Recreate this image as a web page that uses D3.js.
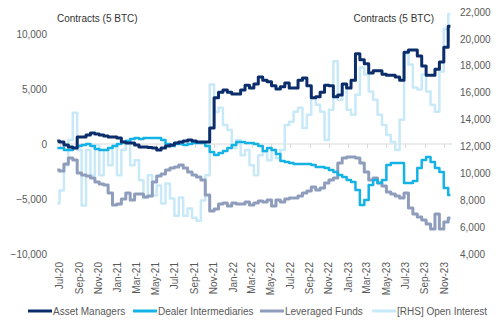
<!DOCTYPE html>
<meta charset="utf-8">
<body style="margin:0;background:#fff">
<style>
  text { font-family: "Liberation Sans", Arial, sans-serif; fill: #595959; }
  .unit { fill: #333; }
</style>
<svg width="499" height="329"></svg>
<script src="https://d3js.org/d3.v7.min.js"></script>
<script>

// CFTC positioning, sampled every two weeks
var start = new Date(2020, 5, 23);
var dates = d3.range(90).map(function(i){ return d3.timeDay.offset(start, 14 * i); });

var assetManagers = [270,180,-90,-270,-360,640,640,820,1000,900,820,730,640,640,550,180,90,90,-90,-270,
  -270,-320,-360,-550,-360,-180,-90,90,180,270,360,270,180,180,180,1450,4200,4700,4900,4700,
  4550,4550,4900,5350,5100,5450,6100,5800,5650,5300,5000,5200,5550,5100,5100,5800,6000,5300,4200,4300,
  4700,5350,5300,4300,4450,5450,5100,5800,8200,7650,7300,6450,6650,6650,6350,6250,6250,6100,5800,8350,
  8550,8550,8000,7100,6250,6250,6800,7450,8800,10700];

var dealers = [-360,-360,-550,-550,-360,-180,-90,0,-180,-450,-550,-550,-360,-180,0,180,270,450,550,450,
  550,550,550,550,360,0,-180,0,0,-90,0,90,90,90,-180,-730,-1000,-820,-640,-360,
  -90,180,180,90,90,0,-180,-640,-360,-550,-910,-1550,-1640,-1730,-1820,-1820,-1820,-1820,-1910,-2090,
  -2090,-2180,-2360,-2550,-2820,-3000,-3270,-3450,-4180,-5550,-5090,-3730,-3270,-3550,-3270,-1910,-1730,-1730,-1730,-3550,
  -3550,-3360,-2180,-1450,-1180,-1640,-2180,-2550,-4000,-4640];

var leveraged = [-2360,-2450,-1820,-1270,-1450,-2640,-2820,-2910,-3090,-3450,-3640,-3730,-4450,-5550,-5450,-5000,-4450,-5090,-4550,-4550,
  -4820,-4730,-3450,-2910,-2730,-2360,-2180,-2090,-1910,-2180,-2550,-2820,-3000,-3270,-4640,-6090,-5910,-5450,-5360,-5640,
  -5360,-5450,-5450,-5270,-5550,-5360,-5180,-5270,-5090,-5640,-5090,-5270,-5000,-4910,-4910,-4730,-4450,-4270,-3910,-4180,
  -4000,-3550,-3270,-3090,-1730,-1270,-1180,-1180,-1270,-1730,-2550,-3270,-3090,-3550,-3820,-4360,-4550,-4730,-4910,-4450,
  -5820,-6360,-6640,-6910,-7270,-7730,-6360,-7730,-7090,-6730];

var openInterest = [7750,8730,10600,12480,14500,11730,7600,11730,9850,12100,9850,11730,10600,12100,9850,11730,12480,10600,10980,9480,
  8200,9850,8350,9100,7750,9250,8130,6850,8200,6850,7380,6700,6480,7980,9850,16600,14580,14880,13600,13230,
  11880,12480,11350,11730,10600,9850,11350,11580,10980,11730,11130,11730,13600,13830,14580,14880,13380,14350,15630,15100,
  14580,12480,14730,18330,15480,16600,14730,14350,15850,17880,17350,16080,15480,14350,13600,12850,12330,11730,13980,18850,
  18100,16380,16230,17350,16080,15100,14580,17580,20730,21850];

var leftTicks = [-10000, -5000, 0, 5000, 10000];
var rightTicks = [4000, 6000, 8000, 10000, 12000, 14000, 16000, 18000, 20000, 22000];

var svg = d3.select("svg");

var x = d3.scaleTime()
    .domain([new Date(2020, 5, 22), new Date(2023, 10, 26)])
    .range([57, 452]);
var yL = d3.scaleLinear().domain([-10000, 12000]).range([254, 12]);
var yR = d3.scaleLinear().domain([4000, 22000]).range([254, 12]);

var fmt = d3.format(",");

// left axis labels
var gl = svg.append("g")
    .attr("transform", "translate(50,0)")
    .call(d3.axisLeft(yL).tickValues(leftTicks).tickSize(0).tickFormat(fmt));
gl.select(".domain").remove();
gl.selectAll("text").attr("font-size", 10).attr("fill", "#595959").attr("font-family", null);

// right axis labels
var gr = svg.append("g")
    .attr("transform", "translate(457,0)")
    .call(d3.axisRight(yR).tickValues(rightTicks).tickSize(0).tickFormat(fmt));
gr.select(".domain").remove();
gr.selectAll("text").attr("font-size", 10).attr("fill", "#595959").attr("font-family", null);

// zero line with month ticks
svg.append("line")
    .attr("x1", 57).attr("x2", 452)
    .attr("y1", yL(0)).attr("y2", yL(0))
    .attr("stroke", "#d9d9d9").attr("stroke-width", 1);

var months = d3.timeMonth.every(2).range(new Date(2020, 6, 1), new Date(2023, 11, 1));
svg.append("g").selectAll("line")
    .data(months)
    .enter().append("line")
    .attr("x1", function(d){ return Math.round(x(d)) + 0.5; })
    .attr("x2", function(d){ return Math.round(x(d)) + 0.5; })
    .attr("y1", yL(0)).attr("y2", yL(0) + 4)
    .attr("stroke", "#d9d9d9");

svg.append("g").selectAll("text")
    .data(months)
    .enter().append("text")
    .attr("transform", function(d){ return "translate(" + x(d) + ",262) rotate(-90)"; })
    .attr("text-anchor", "end")
    .attr("dy", "0.35em")
    .attr("font-size", 10)
    .text(d3.timeFormat("%b-%y"));

// series
var series = [
  { name: "[RHS] Open Interest", values: openInterest, y: yR, color: "#c8e9f7", width: 2.5 },
  { name: "Leveraged Funds", values: leveraged, y: yL, color: "#8f9dbd", width: 3 },
  { name: "Dealer Intermediaries", values: dealers, y: yL, color: "#15b2e6", width: 2.5 },
  { name: "Asset Managers", values: assetManagers, y: yL, color: "#0c2d6b", width: 3 }
];

series.forEach(function(s){
  var line = d3.line()
      .curve(d3.curveStep)
      .x(function(d, i){ return x(dates[i]); })
      .y(function(d){ return s.y(d); });
  svg.append("path")
      .datum(s.values)
      .attr("fill", "none")
      .attr("stroke", s.color)
      .attr("stroke-width", s.width)
      .attr("stroke-linejoin", "round")
      .attr("d", line);
});

// unit captions
svg.append("text").attr("class", "unit").attr("x", 57).attr("y", 22)
    .attr("font-size", 10).text("Contracts  (5 BTC)");
svg.append("text").attr("class", "unit").attr("x", 434).attr("y", 22)
    .attr("font-size", 10).attr("text-anchor", "end").text("Contracts  (5 BTC)");

// legend
var legend = [
  { name: "Asset Managers", color: "#0c2d6b", x: 28 },
  { name: "Dealer Intermediaries", color: "#15b2e6", x: 133 },
  { name: "Leveraged Funds", color: "#8f9dbd", x: 260 },
  { name: "[RHS] Open Interest", color: "#c8e9f7", x: 372 }
];
var lg = svg.append("g").selectAll("g")
    .data(legend)
    .enter().append("g")
    .attr("transform", function(d){ return "translate(" + d.x + ",311)"; });
lg.append("line")
    .attr("x1", 0).attr("x2", 24)
    .attr("stroke", function(d){ return d.color; })
    .attr("stroke-width", 3);
lg.append("text")
    .attr("x", 25).attr("dy", "0.35em")
    .attr("font-size", 10)
    .text(function(d){ return d.name; });

</script>
</body>
